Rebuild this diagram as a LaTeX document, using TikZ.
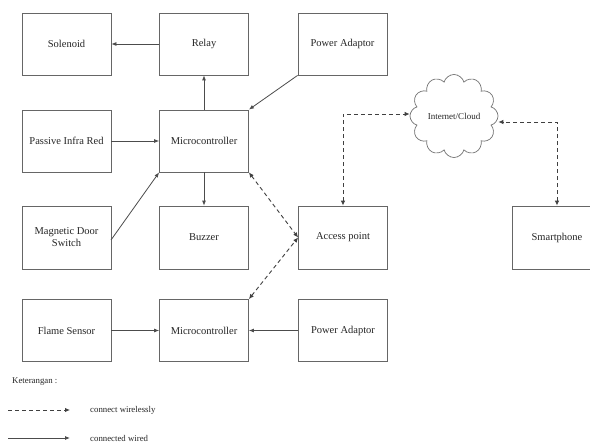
\documentclass[tikz,border=0pt]{standalone}
\usepackage{fontspec}
\setmainfont{Liberation Serif}
\usetikzlibrary{arrows.meta,shapes.symbols}
\begin{document}
\begin{tikzpicture}[x=1pt,y=-1pt,
  blk/.style={draw=black!60,line width=0.8pt,rectangle,minimum width=89pt,minimum height=62pt,inner sep=1pt,align=center,text=black!85,font=\fontsize{10.5}{12}\selectfont},
  wire/.style={draw=black!70,line width=0.8pt,-{Latex[length=5pt,width=4pt]}},
  wl/.style={draw=black!75,line width=0.9pt,dash pattern=on 4pt off 3pt,{Latex[length=5pt,width=4.5pt]}-{Latex[length=5pt,width=4.5pt]}},
  wlone/.style={draw=black!75,line width=0.9pt,dash pattern=on 4pt off 3pt,-{Latex[length=5pt,width=4.5pt]}},
  lg/.style={text=black!85,font=\fontsize{8.8}{10}\selectfont,anchor=west,inner sep=0pt}
]
\useasboundingbox (0,0) rectangle (590,444);
\clip (0,0) rectangle (590,444);
\fill[white] (0,0) rectangle (590,444);

\node[blk] (sol) at (66.5,44) {Solenoid};
\node[blk] (relay) at (204,44) {Relay};
\node[blk] (pa1) at (342.5,44) {Power Adaptor};
\node[blk] (pir) at (66.5,141) {Passive Infra Red};
\node[blk] (mc1) at (204,141) {Microcontroller};
\node[blk,minimum height=63pt] (mds) at (66.5,237.5) {Magnetic Door\\Switch};
\node[blk,minimum height=63pt] (buz) at (204,237.5) {Buzzer};
\node[blk,minimum height=63pt] (ap) at (343,237.5) {Access point};
\node[blk,minimum height=63pt] (sp) at (557,237.5) {Smartphone};
\node[blk] (fs) at (66.5,330.5) {Flame Sensor};
\node[blk] (mc2) at (204,330.5) {Microcontroller};
\node[blk] (pa2) at (343,330.5) {Power Adaptor};
\node[cloud,cloud puffs=12,cloud ignores aspect,draw=black!55,line width=0.7pt,minimum width=88pt,minimum height=83pt,inner sep=0pt,text=black!85,font=\fontsize{9}{10}\selectfont] (cloud) at (454,116) {Internet/Cloud};

% wired
\draw[wire] (relay.west) -- (sol.east);
\draw[wire] (mc1.north) -- (relay.south);
\draw[wire] (pa1.south west) -- (mc1.north east);
\draw[wire] (pir.east) -- (mc1.west);
\coordinate (mdsout) at (111,240);
\draw[wire] (mdsout) -- (mc1.south west);
\draw[wire] (mc1.south) -- (buz.north);
\draw[wire] (fs.east) -- (mc2.west);
\draw[wire] (pa2.west) -- (mc2.east);

% wireless
\draw[wl] (mc1.south east) -- (ap.west);
\draw[wl] (mc2.north east) -- (ap.west);
\draw[wl] (ap.north) |- ([yshift=2pt]cloud.west);
\draw[wl] (sp.north) |- ([yshift=-6pt]cloud.east);

% legend
\node[lg] (ket) at (12,382) {Keterangan :};
\coordinate (d1) at (8,410);
\coordinate (d2) at (70,410);
\draw[wlone] (d1) -- (d2);
\node[lg] (t1) at (90,410) {connect wirelessly};
\coordinate (s1) at (8,438);
\coordinate (s2) at (70,438);
\draw[wire] (s1) -- (s2);
\node[lg] (t2) at (90,438) {connected wired};
\end{tikzpicture}
\end{document}
